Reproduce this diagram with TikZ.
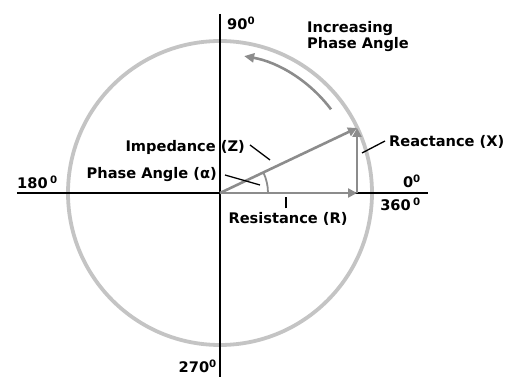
\documentclass[tikz,border=0pt]{standalone}
\usepackage{fontspec}
\setmainfont{DejaVu Sans}
\usetikzlibrary{arrows.meta}
\definecolor{ringgray}{HTML}{C4C4C4}
\definecolor{vecgray}{HTML}{8C8C8C}
\tikzset{
  lbl/.style={font=\bfseries\fontsize{14.6}{16}\selectfont, inner sep=0pt},
  vec/.style={vecgray, line width=2.6pt, -{Triangle[length=9pt,width=9pt]}},
  leader/.style={black, line width=1.3pt}
}
\begin{document}
\begin{tikzpicture}[x=1pt, y=1pt]
\useasboundingbox (-220,-184) rectangle (291,193);
% circle
\draw[ringgray, line width=3.8pt] (0,0) circle (152);
% axes
\draw[line width=2.4pt] (-203,0) -- (208,0);
\draw[line width=2.4pt] (0,179) -- (0,-184);
% points
\coordinate (O) at (0,0);
\coordinate (R) at (137,0);
\coordinate (Z) at (137,65);
% angle
\draw[vecgray, line width=1.8pt] (48,0) arc[start angle=0, end angle=25.4, radius=48];
% vectors
\draw[vec] (O) -- (R);
\draw[vec] (R) -- (Z);
\draw[vec] (O) -- (Z);
% Increasing phase angle
\draw[vecgray, line width=2.6pt, -{Triangle[length=10pt,width=9pt]}] (37:139) arc[start angle=37, end angle=80, radius=139];
\node[lbl, anchor=west, align=left] (inc) at (87,156.5) {Increasing\\[0pt]Phase Angle};
% degree labels
\node[lbl, anchor=west] (d90) at (7,170) {90\textsuperscript{0}};
\node[lbl, anchor=west] (d180) at (-203,11) {180\,\textsuperscript{0}};
\node[lbl, anchor=east] (d0) at (201,12) {0\textsuperscript{0}};
\node[lbl, anchor=east] (d360) at (201,-11) {360\,\textsuperscript{0}};
\node[lbl, anchor=east] (d270) at (-3,-173) {270\textsuperscript{0}};
% component labels
\node[lbl, anchor=east] (imp) at (25,46) {Impedance (Z)};
\node[lbl, anchor=east] (pha) at (-3,18) {Phase Angle (α)};
\node[lbl] (res) at (68,-26) {Resistance (R)};
\node[lbl, anchor=west] (rea) at (169,51) {Reactance (X)};
% leaders
\coordinate (impA) at (50,33);
\coordinate (phaA) at (40,8);
\coordinate (resA) at (66,-4);
\coordinate (reaA) at (142,40);
\draw[leader] (imp.east) ++(5,2) -- (impA);
\draw[leader] (pha.east) ++(8,0) -- (phaA);
\draw[leader] (res.north) ++(-2,4) -- (resA);
\draw[leader] (rea.west) ++(-4,1) -- (reaA);
\end{tikzpicture}
\end{document}
